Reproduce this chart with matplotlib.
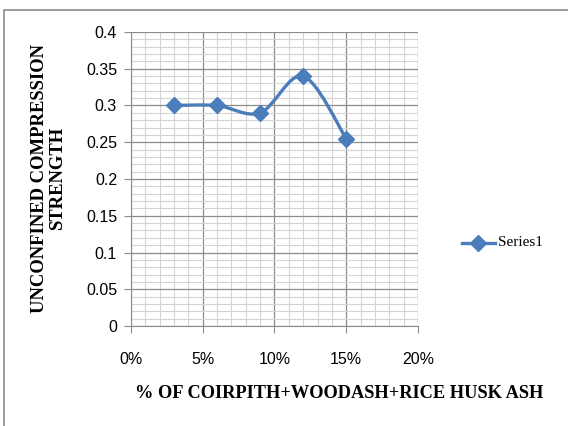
import matplotlib.pyplot as plt
from matplotlib.path import Path
from matplotlib.patches import PathPatch, Rectangle
from matplotlib.lines import Line2D
from matplotlib.ticker import MultipleLocator, PercentFormatter
import numpy as np

additive = [0.03, 0.06, 0.09, 0.12, 0.15]
strength = [0.30, 0.30, 0.29, 0.34, 0.255]
series_name = "Series1"

blue = "#4a7ebb"

fig = plt.figure(figsize=(5.68, 4.26), dpi=100)
ax = fig.add_axes([0.2306, 0.2347, 0.5053, 0.6902])

# smoothed line (bezier segments, excel style)
pts = np.column_stack([additive, strength])
verts = [tuple(pts[0])]
codes = [Path.MOVETO]
n = len(pts)
for i in range(n - 1):
    p0 = pts[i - 1] if i > 0 else pts[i]
    p1 = pts[i]
    p2 = pts[i + 1]
    p3 = pts[i + 2] if i + 2 < n else pts[i + 1]
    c1 = p1 + (p2 - p0) / 6
    c2 = p2 - (p3 - p1) / 6
    verts += [tuple(c1), tuple(c2), tuple(p2)]
    codes += [Path.CURVE4] * 3
ax.add_patch(PathPatch(Path(verts, codes), facecolor="none", edgecolor=blue,
                       lw=2.4, zorder=3, capstyle="round", joinstyle="round"))
ax.plot(additive, strength, ls="none", marker="D", ms=8, color=blue, zorder=4)

ax.set_xlim(0, 0.20)
ax.set_ylim(0, 0.4)
ax.xaxis.set_major_locator(MultipleLocator(0.05))
ax.xaxis.set_minor_locator(MultipleLocator(0.01))
ax.yaxis.set_major_locator(MultipleLocator(0.05))
ax.yaxis.set_minor_locator(MultipleLocator(0.01))
ax.xaxis.set_major_formatter(PercentFormatter(1.0, decimals=0))
ax.yaxis.set_major_formatter(lambda v, p: "0" if v == 0 else f"{v:g}")

ax.grid(which="minor", color="#d4d4d4", lw=0.8)
ax.grid(which="major", color="#8c8c8c", lw=0.9)
ax.set_axisbelow(True)
ax.tick_params(which="minor", length=0)
ax.tick_params(which="major", length=5, color="#8c8c8c", labelsize=11.5,
               direction="out", pad=5)
ax.tick_params(axis="x", pad=14)
for lab in ax.get_xticklabels() + ax.get_yticklabels():
    lab.set_family("Liberation Sans")
for s in ["top", "right"]:
    ax.spines[s].set_visible(False)
for s in ["left", "bottom"]:
    ax.spines[s].set_color("#8c8c8c")

fig.text(0.598, 0.077, "% OF COIRPITH+WOODASH+RICE HUSK ASH", ha="center",
         va="center", family="Liberation Serif", weight="bold", fontsize=13.2)
fig.text(0.085, 0.582, "UNCONFINED COMPRESSION\nSTRENGTH", ha="center",
         va="center", rotation=90, family="Liberation Serif", weight="bold",
         fontsize=13.4, linespacing=1.1)

# legend entry
fig.add_artist(Line2D([0.813, 0.871], [0.43, 0.43], color=blue, lw=2.4))
fig.add_artist(Line2D([0.842], [0.43], color=blue, marker="D", ms=8, ls="none"))
fig.text(0.876, 0.43, series_name, va="center", ha="left",
         family="Liberation Serif", fontsize=11)

# chart border
fig.add_artist(Rectangle((0.007, -0.05), 1.1, 1.027, transform=fig.transFigure,
                         facecolor="none", edgecolor="#8c8c8c", lw=1.2))

fig.savefig("out.png", dpi=100)
